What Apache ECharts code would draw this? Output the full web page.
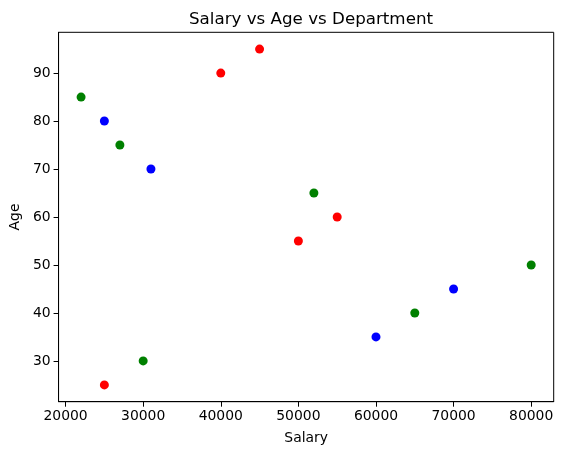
<!DOCTYPE html>
<html>
<head>
<meta charset="utf-8">
<script src="https://cdn.jsdelivr.net/npm/echarts@6/dist/echarts.min.js"></script>
<style>
  html, body { margin: 0; padding: 0; background: #fff; }
  #myChart { width: 562px; height: 455px; }
</style>
</head>
<body>
<div id="myChart"></div>
<script>
  // data: [salary, age]
  var redPoints = [[25000, 25], [40000, 90], [45000, 95], [50000, 55], [55000, 60]];
  var bluePoints = [[25000, 80], [31000, 70], [60000, 35], [70000, 45]];
  var greenPoints = [[22000, 85], [27000, 75], [30000, 30], [52000, 65], [65000, 40], [80000, 50]];
  var xTicks = [20000, 30000, 40000, 50000, 60000, 70000, 80000];
  var yTicks = [30, 40, 50, 60, 70, 80, 90];

  var font = 'DejaVu Sans';

  function dots(data, color) {
    return {
      type: 'scatter',
      data: data,
      symbolSize: 9,
      itemStyle: { color: color, opacity: 1 },
      silent: true
    };
  }

  var myChart = echarts.init(document.getElementById('myChart'));
  myChart.setOption({
    animation: false,
    title: {
      text: 'Salary vs Age vs Department',
      left: 306,
      top: 6,
      textAlign: 'center',
      textStyle: { fontFamily: font, fontSize: 16.7, fontWeight: 'normal', color: '#000' }
    },
    grid: {
      left: 57.7,
      right: 8.3,
      top: 32.3,
      bottom: 53.3,
      show: true,
      borderColor: '#000',
      borderWidth: 1
    },
    xAxis: {
      type: 'value',
      min: 19100,
      max: 82900,
      name: 'Salary',
      nameLocation: 'middle',
      nameGap: 30,
      nameTextStyle: { fontFamily: font, fontSize: 13.9, color: '#000' },
      splitLine: { show: false },
      axisLine: { show: true, lineStyle: { color: '#000', width: 1 } },
      axisTick: { show: true, length: 5, lineStyle: { color: '#000' }, customValues: xTicks },
      axisLabel: {
        fontFamily: font, fontSize: 13.9, color: '#000', margin: 8, customValues: xTicks,
        formatter: function (v) { return String(v); }
      }
    },
    yAxis: {
      type: 'value',
      min: 21.5,
      max: 98.5,
      name: 'Age',
      nameLocation: 'middle',
      nameGap: 30,
      nameRotate: 90,
      nameTextStyle: { fontFamily: font, fontSize: 13.9, color: '#000' },
      splitLine: { show: false },
      axisLine: { show: true, lineStyle: { color: '#000', width: 1 } },
      axisTick: { show: true, length: 5, lineStyle: { color: '#000' }, customValues: yTicks },
      axisLabel: { fontFamily: font, fontSize: 13.9, color: '#000', margin: 8, customValues: yTicks }
    },
    series: [
      dots(redPoints, '#ff0000'),
      dots(bluePoints, '#0000ff'),
      dots(greenPoints, '#008000')
    ]
  });
</script>
</body>
</html>
